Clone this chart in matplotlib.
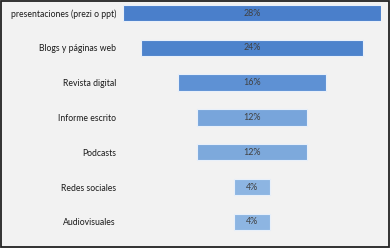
import matplotlib.pyplot as plt

categories = [
    "presentaciones (prezi o ppt)", "Blogs y páginas web", "Revista digital",
    "Informe escrito", "Podcasts", "Redes sociales", "Audiovisuales",
]
values = [28, 24, 16, 12, 12, 4, 4]
colors = ["#4a7fcb", "#4d83cc", "#5e91d4", "#78a5db", "#7da9dc", "#8db5e2", "#8db5e2"]

plt.rcParams["font.family"] = ["Lato", "DejaVu Sans"]

fig = plt.figure(figsize=(3.9, 2.48), dpi=100)
fig.patch.set_facecolor("#f2f2f2")

# axes spans the widest bar; labels sit in the left margin as tick labels
ax = fig.add_axes([123 / 390, 0, 258 / 390, 1])
ax.set_facecolor("none")

rows = list(range(len(categories)))
lefts = [-v / 2 for v in values]
ax.barh(rows, values, left=lefts, height=0.47, color=colors,
        edgecolor="#e8f0fa", linewidth=0.8)

for r, v in zip(rows, values):
    ax.text(0, r, f"{v}%", ha="center", va="center", fontsize=6.4,
            color="#404040")

ax.set_xlim(-14, 14)
ax.set_ylim(6.753, -0.374)
ax.set_yticks(rows)
ax.set_yticklabels(categories, fontsize=6.2, color="#1a1a1a")
ax.tick_params(axis="y", length=0, pad=5)
ax.set_xticks([])
for s in ax.spines.values():
    s.set_visible(False)

# outer frame
frame = plt.Rectangle((0.002, 0.003), 0.996, 0.994, transform=fig.transFigure,
                      fill=False, edgecolor="#222222", linewidth=1.3)
fig.patches.append(frame)

fig.savefig("out.png", dpi=100, facecolor=fig.get_facecolor())
